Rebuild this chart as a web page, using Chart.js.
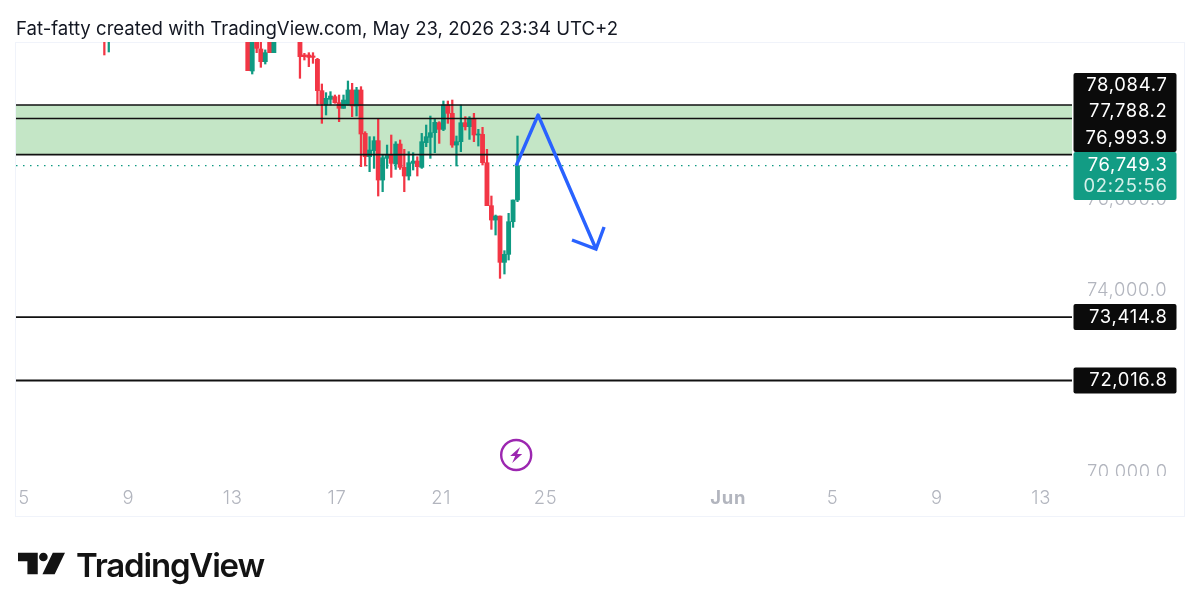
<!DOCTYPE html>
<html>
<head>
<meta charset="utf-8">
<script src="https://cdn.jsdelivr.net/npm/chart.js@4/dist/chart.umd.min.js"></script>
<style>
html,body{margin:0;padding:0;background:#fff;width:1200px;height:611px;overflow:hidden}
#frame{position:absolute;left:15px;top:42px;width:1170px;height:475px;border:1px solid #f0f3fa;box-sizing:border-box}
#title{position:absolute;left:16px;top:16px;font:400 18.6px Inter,sans-serif;color:#131722;white-space:nowrap;line-height:24px}
#wm{position:absolute;left:76px;top:544px;font:600 33px Inter,sans-serif;color:#131313;letter-spacing:-1.2px;line-height:42px;white-space:nowrap}
#logo{position:absolute;left:18px;top:551px}
canvas{position:absolute;left:0;top:0}
</style>
</head>
<body>
<div id="frame"></div>
<canvas id="c" width="1200" height="611"></canvas>
<div id="title">Fat-fatty created with TradingView.com, May 23, 2026 23:34 UTC+2</div>
<svg id="logo" width="47" height="27" viewBox="0 0 50 27"><path d="M0 1H21V24H10V10H0Z M37 1H50L39 24H26Z" fill="#131313"/><circle cx="27" cy="5.5" r="4.6" fill="#131313"/></svg>
<div id="wm">TradingView</div>
<script>
const candleTimes = [8.08,8.25,13.58,13.75,13.92,14.08,14.25,14.42,14.58,15.58,15.75,15.92,16.08,16.25,16.42,16.58,16.75,16.92,17.08,17.25,17.42,17.58,17.75,17.92,18.08,18.25,18.42,18.58,18.75,18.92,19.08,19.25,19.42,19.58,19.75,19.92,20.08,20.25,20.42,20.58,20.75,20.92,21.08,21.25,21.42,21.58,21.75,21.92,22.08,22.25,22.42,22.58,22.75,22.92,23.08,23.25,23.42,23.58,23.75,23.92];
const opens  = [80400,79700,79900,78835,79900,79320,79041,79700,79239,79800,79188,79188,79166,79092,78402,78086,78211,78270,78138,78013,78086,78417,78064,78417,77461,76947,77080,77300,76433,76911,76999,76786,77226,76712,76522,76800,76852,76712,77256,77373,77476,77696,77550,78086,77902,77204,77278,77696,77608,77792,77425,77439,76815,75868,75552,75640,74620,74796,75515,75993];
const highs  = [80500,80000,80100,80000,80000,79600,79300,79800,79800,79900,79224,79239,79239,79114,78549,78358,78380,78306,78306,78306,78615,78563,78475,78490,77498,77388,77388,77792,76984,77204,77425,77278,77315,77109,77058,77036,76947,77461,77645,77843,77792,77718,78174,78174,78196,77403,78086,77829,77829,77902,77550,77594,77109,76081,75662,75640,74877,75699,75993,77403];
const lows   = [79188,79254,78842,78769,79239,78916,78989,79239,79239,78674,79077,78931,79004,78086,77682,77866,78086,78123,77719,78013,78086,77829,77844,76728,76742,76617,76690,76081,76176,76690,76492,76668,76668,76176,76433,76654,76522,76690,77168,76911,77036,77241,77520,77682,77153,76742,77058,77535,77329,77278,77182,76764,75868,75347,75222,74267,74363,74671,75391,75956];
const closes = [79900,80000,78842,79900,79334,79041,79239,79239,79700,79151,79151,79136,79136,78402,78108,78233,78284,78138,78013,78196,78417,78064,78417,77447,76947,77094,77300,76433,76925,76984,76801,77226,76712,76522,76815,76852,76727,77278,77388,77476,77704,77550,78086,77902,77204,77278,77696,77608,77792,77425,77447,76815,75868,75552,75640,74620,74796,75515,75993,76749.3];

const zoneTop = 78084.7, zoneMid = 77788.2, zoneBottom = 76993.9;
const supportA = 73414.8, supportB = 72016.8, lastPrice = 76749.3;

const arrowTimes  = [23.87,24.71,26.93];
const arrowPrices = [76749,77866,74914];
const headTimes   = [26.01,26.93,27.24];
const headPrices  = [75112,74914,75398];

const xTickValues = [5,9,13,17,21,25,32,36,40,44];
const xTickLabels = ['5','9','13','17','21','25','Jun','5','9','13'];
const yTickValues = [78000,76000,74000,72000,70000];
const stackLabels = ['78,084.7','77,788.2','76,993.9'];
const lastLabels  = ['76,749.3','02:25:56'];
const supportLabels = ['73,414.8','72,016.8'];
const eventTime = 23.87;

const X_MIN = 4.693, X_MAX = 45.18, Y_MIN = 69935, Y_MAX = 79474;
const RED = '#f23645', GREEN = '#0f9a82', BLACK = '#0b0b0b';
const FONT = 'Inter, sans-serif';

const isUp = i => closes[i] >= opens[i];
const wick = candleTimes.map((t,i)=>({x:t,y:[lows[i],highs[i]]}));
const body = candleTimes.map((t,i)=>({x:t,y:[opens[i],closes[i]]}));
const colorOf = c => isUp(c.dataIndex) ? GREEN : RED;
const hline = (v,color,width,extra={}) => Object.assign({type:'line',data:[{x:X_MIN,y:v},{x:X_MAX,y:v}],borderColor:color,borderWidth:width,pointRadius:0,order:1},extra);

const overlay = {
  id:'overlay',
  beforeDraw(chart){ chart.ctx.letterSpacing='0.7px'; },
  afterDraw(chart){
    const {ctx,scales:{x,y}} = chart;
    ctx.save();
    ctx.fillStyle='#fff'; ctx.fillRect(1074,476,106,14);
    const cx = x.getPixelForValue(eventTime), cy = 455;
    ctx.strokeStyle='#9c27b0'; ctx.lineWidth=2.4;
    ctx.beginPath(); ctx.arc(cx,cy,15,0,Math.PI*2); ctx.stroke();
    ctx.fillStyle='#9c27b0';
    ctx.beginPath();
    ctx.moveTo(cx+4,cy-8);ctx.lineTo(cx-6,cy+1);ctx.lineTo(cx-1,cy+1);ctx.lineTo(cx-4,cy+8);
    ctx.lineTo(cx+6,cy-1);ctx.lineTo(cx+1,cy-1);ctx.closePath();ctx.fill();
    const L=1073.5,W=103,TX=1167.5;
    const box=(top,h,color)=>{ctx.fillStyle=color;ctx.beginPath();ctx.roundRect(L,top,W,h,2);ctx.fill();};
    ctx.font='400 18.4px '+FONT; ctx.textAlign='right'; ctx.textBaseline='middle';
    box(73,79,BLACK);
    ctx.fillStyle='#fff';
    [85,111,138].forEach((py,i)=>ctx.fillText(stackLabels[i],TX,py));
    box(152,48,'#129c84');
    ctx.fillStyle='#fff'; ctx.fillText(lastLabels[0],TX,165);
    ctx.fillStyle='#d5f0ea'; ctx.fillText(lastLabels[1],TX,186);
    [supportA,supportB].forEach((v,i)=>{
      const py=y.getPixelForValue(v);
      box(py-13,26,BLACK);
      ctx.fillStyle='#fff'; ctx.fillText(supportLabels[i],TX,py);
    });
    ctx.restore();
  }
};

new Chart(document.getElementById('c'),{
  type:'bar',
  data:{datasets:[
    {type:'line',data:arrowTimes.map((t,i)=>({x:t,y:arrowPrices[i]})),borderColor:'#2962ff',borderWidth:3.4,pointRadius:0,order:0,borderJoinStyle:'round'},
    {type:'line',data:headTimes.map((t,i)=>({x:t,y:headPrices[i]})),borderColor:'#2962ff',borderWidth:3.4,pointRadius:0,order:0},
    hline(zoneTop,'#111',1.5),
    hline(zoneMid,'#111',1.5),
    hline(zoneBottom,'#111',1.8),
    hline(supportA,'#111',1.8),
    hline(supportB,'#111',1.8),
    {data:body,grouped:false,barThickness:4.2,backgroundColor:colorOf,borderWidth:0,borderSkipped:false,order:10},
    {data:wick,grouped:false,barThickness:1.6,backgroundColor:colorOf,borderWidth:0,borderSkipped:false,order:11},
    hline(lastPrice,'#0f9a82',1.2,{borderDash:[1.5,5.5],order:20}),
    hline(zoneTop,'rgba(0,0,0,0)',0,{fill:{value:zoneBottom},backgroundColor:'#c4e6c6',order:30})
  ]},
  options:{
    responsive:false,animation:false,
    layout:{padding:{left:16,top:42,right:15,bottom:94}},
    plugins:{legend:{display:false},tooltip:{enabled:false},title:{display:false}},
    events:[],
    scales:{
      x:{type:'linear',min:X_MIN,max:X_MAX,offset:false,
        grid:{display:false,drawTicks:false},border:{display:false},
        afterBuildTicks(s){s.ticks=xTickValues.map(v=>({value:v}));},
        afterFit(s){s.height=42;},
        ticks:{autoSkip:false,maxRotation:0,padding:12,
          color:'#b2b5be',
          font:c=>({family:FONT,size:18.4,weight:(c.tick&&c.tick.value===32)?'700':'300'}),
          callback:v=>xTickLabels[xTickValues.indexOf(v)]}
      },
      y:{position:'right',min:Y_MIN,max:Y_MAX,
        grid:{display:false,drawTicks:false},border:{display:false},
        afterBuildTicks(s){s.ticks=yTickValues.map(v=>({value:v}));},
        afterFit(s){s.width=113;},
        ticks:{padding:15,color:'#b2b5be',
          font:{family:FONT,size:18.4,weight:'300'},
          callback:v=>v.toLocaleString('en-US',{minimumFractionDigits:1,maximumFractionDigits:1})}
      }
    }
  },
  plugins:[overlay]
});
</script>
</body>
</html>
